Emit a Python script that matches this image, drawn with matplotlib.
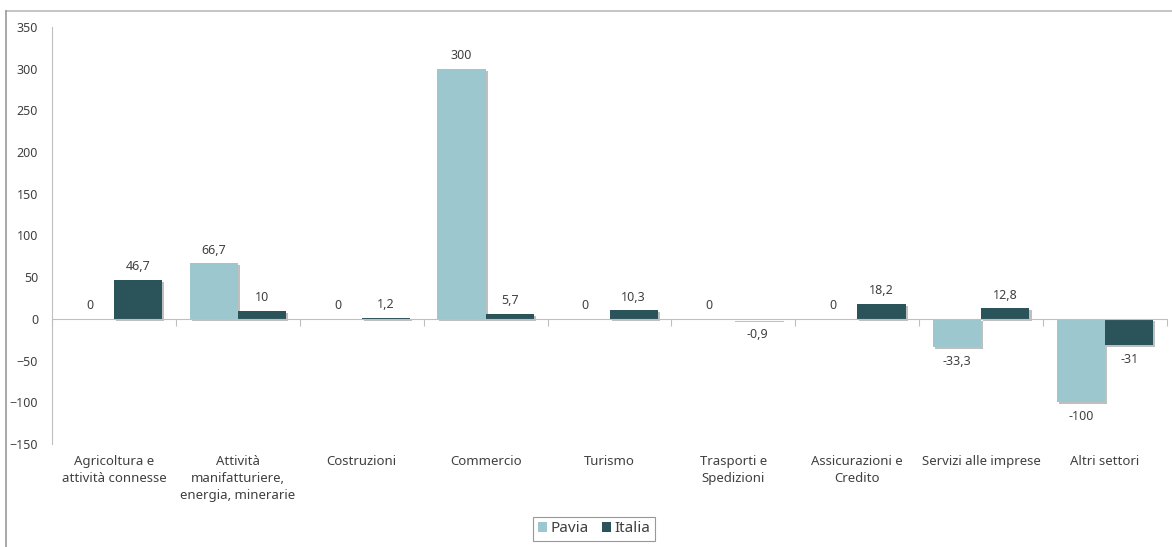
import matplotlib
matplotlib.use('Agg')
import matplotlib.pyplot as plt
import matplotlib.patheffects as pe
import numpy as np
from matplotlib.lines import Line2D

plt.rcParams['font.family'] = ['Noto Sans', 'DejaVu Sans']

categories = ['Agricoltura e\nattività connesse', 'Attività\nmanifatturiere,\nenergia, minerarie',
              'Costruzioni', 'Commercio', 'Turismo', 'Trasporti e\nSpedizioni',
              'Assicurazioni e\nCredito', 'Servizi alle imprese', 'Altri settori']
pavia = [0, 66.7, 0, 300, 0, 0, 0, -33.3, -100]
italia = [46.7, 10, 1.2, 5.7, 10.3, -0.9, 18.2, 12.8, -31]
yticks = [-150, -100, -50, 0, 50, 100, 150, 200, 250, 300, 350]

col_pavia = '#9cc7cf'
col_italia = '#2b535a'
txt = '#404040'
axis_col = '#bfbfbf'

fig = plt.figure(figsize=(11.72, 5.47), dpi=100)
ax = fig.add_axes([52/1172, 103/547, 1115/1172, 417/547])

x = np.arange(len(categories))
w = 0.39
shadow = [pe.SimplePatchShadow(offset=(1.5, -1.5), shadow_rgbFace='#000000', alpha=0.25), pe.Normal()]
b1 = ax.bar(x - w/2, pavia, w, color=col_pavia, label='Pavia', path_effects=shadow)
b2 = ax.bar(x + w/2, italia, w, color=col_italia, label='Italia', path_effects=shadow)

def fmt(v):
    return ('%g' % v).replace('.', ',')

# etichette dati
for bars, vals in ((b1, pavia), (b2, italia)):
    for bar, v in zip(bars, vals):
        cx = bar.get_x() + bar.get_width()/2
        off = 9.5 if v >= 0 else -10.5
        ax.annotate(fmt(v), xy=(cx, v), xytext=(0, off), textcoords='offset points',
                    ha='center', va='center', fontsize=9, color=txt)

ax.set_xlim(-0.5, len(categories) - 0.5)
ax.set_ylim(-150, 350)
ax.set_yticks(yticks)
ax.tick_params(axis='y', length=0, pad=10, labelsize=9, labelcolor=txt)

for s in ('top', 'right'):
    ax.spines[s].set_visible(False)
ax.spines['left'].set_color(axis_col)
ax.spines['bottom'].set_color(axis_col)
ax.spines['bottom'].set_position(('data', 0))
ax.set_xticks(np.arange(len(categories) + 1) - 0.5)
ax.tick_params(axis='x', length=5, color=axis_col, labelbottom=False)

# categorie sotto l'area del grafico
for i, c in enumerate(categories):
    ax.annotate(c, xy=(i, 0), xycoords=('data', 'axes fraction'), xytext=(0, -8),
                textcoords='offset points', ha='center', va='top', fontsize=9.5,
                color=txt, linespacing=1.4)

leg = fig.legend(loc='center', bbox_to_anchor=(594/1172, (547-529)/547),
                 ncol=2, frameon=True, fancybox=False, fontsize=11, handlelength=0.6,
                 handleheight=0.6, handletextpad=0.2, columnspacing=0.9, borderpad=0.3,
                 labelcolor=txt, borderaxespad=0)
leg.get_frame().set_edgecolor('#7f7f7f')
leg.get_frame().set_linewidth(0.8)
for h in leg.legend_handles:
    h.set_path_effects([])

fig.add_artist(Line2D([6/1172, 1], [1 - 11/547, 1 - 11/547], color='#bbbbbb', lw=1.2))
fig.add_artist(Line2D([6/1172, 6/1172], [0, 1 - 11/547], color='#999999', lw=1.2))

fig.savefig('out.png', dpi=100)
